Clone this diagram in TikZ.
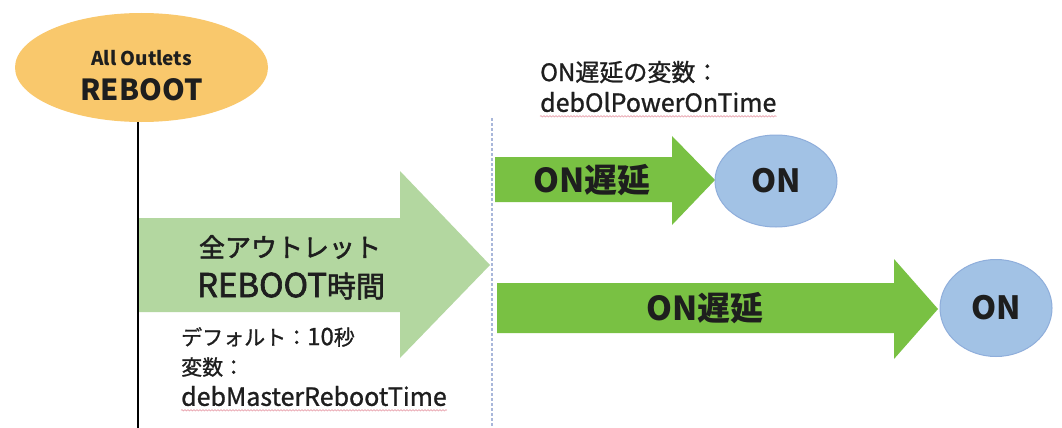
\documentclass[tikz,border=0pt]{standalone}
\usepackage{fontspec}
\setmainfont{Noto Sans CJK JP}
\newfontfamily\medfont[FakeBold=2]{Noto Sans CJK JP}
\newfontfamily\notefont[FakeBold=1]{Noto Sans CJK JP}
\usetikzlibrary{decorations.pathmorphing,shapes.geometric}
\definecolor{orangefill}{HTML}{F9C86C}
\definecolor{palegreen}{HTML}{B3D7A0}
\definecolor{brightgreen}{HTML}{79C143}
\definecolor{bluefill}{HTML}{A2C2E5}
\definecolor{blueline}{HTML}{8FAEDB}
\definecolor{dashblue}{HTML}{A9B7DA}
\definecolor{spell}{HTML}{E9A3AE}
\definecolor{txt}{HTML}{1E1E1E}
\newcommand\fsz[2]{{\fontsize{#1}{#1}\selectfont #2}}
\tikzset{
  lbl/.style={inner sep=0pt, text=txt},
  onell/.style={ellipse, fill=bluefill, draw=blueline, line width=1pt, inner sep=0pt, font=\bfseries\fontsize{32}{32}\selectfont, text=txt},
  spellline/.style={spell, line width=0.7pt, decorate, decoration={snake, amplitude=0.7pt, segment length=3pt}},
}
\begin{document}
\begin{tikzpicture}[x=1pt,y=-1pt]
\path[use as bounding box, fill=white] (0,0) rectangle (1062,428);
% orange ellipse
\node[ellipse, fill=orangefill, minimum width=253pt, minimum height=109pt, inner sep=0pt] (reboot) at (141.5,67.5) {};
\node[lbl, font=\bfseries\fontsize{19}{19}\selectfont] (allout) at (141.5,58) {All Outlets};
\node[lbl, font=\bfseries\fontsize{29}{29}\selectfont] (rebtxt) at (141.5,90) {REBOOT};
% black timeline
\coordinate (lineend) at (138,428);
\draw[line width=2.5pt, black] (reboot.south) ++(-3.5,0) coordinate (ls) -- (lineend);
% dashed separator
\coordinate (dtop) at (492,118);
\coordinate (dbot) at (492,428);
\draw[dashblue, line width=1.5pt, dash pattern=on 3pt off 2pt] (dtop) -- (dbot);
% big pale arrow
\fill[palegreen] (139,218) -- (400,218) -- (400,171) -- (490,265) -- (400,358) -- (400,312) -- (139,312) -- cycle;
\node[lbl, font=\medfont\fontsize{26}{26}\selectfont] (all) at (290,247) {全アウトレット};
\node[lbl, font=\medfont\fontsize{29}{29}\selectfont] (rtime) at (291,286) {\fsz{33}{REBOOT}時間};
% notes under big arrow
\node[lbl, anchor=west, font=\notefont\fontsize{21}{21}\selectfont] (dflt) at (181,337) {デフォルト：\fsz{24}{10}秒};
\node[lbl, anchor=west, font=\notefont\fontsize{21}{21}\selectfont] (var) at (181,367) {変数：};
\node[lbl, anchor=west, font=\notefont\fontsize{25}{25}\selectfont] (mvar) at (181,396) {debMasterRebootTime};
\draw[spellline] (mvar.south west) ++(0,4) coordinate (ms1) -- (mvar.south east |- ms1);
% top note
\node[lbl, anchor=west, font=\notefont\fontsize{24}{24}\selectfont] (onvar) at (540,72) {ON遅延の変数：};
\node[lbl, anchor=west, font=\notefont\fontsize{25}{25}\selectfont] (ovar) at (540,102) {debOlPowerOnTime};
\draw[spellline] (ovar.south west) ++(0,4) coordinate (os1) -- (ovar.south east |- os1);
% upper green arrow
\fill[brightgreen] (495,157) -- (672,157) -- (672,136) -- (715,180) -- (672,225) -- (672,202) -- (495,202) -- cycle;
\node[lbl, font=\bfseries\fontsize{33}{33}\selectfont] (ond1) at (592,180) {ON遅延};
\node[onell, minimum width=122pt, minimum height=92pt] (on1) at (776,181) {ON};
% lower green arrow
\fill[brightgreen] (497,283) -- (894,283) -- (894,259) -- (938,309) -- (894,359) -- (894,333) -- (497,333) -- cycle;
\node[lbl, font=\bfseries\fontsize{33}{33}\selectfont] (ond2) at (705,308) {ON遅延};
\node[onell, minimum width=112pt, minimum height=97pt] (on2) at (996,308) {ON};
\end{tikzpicture}
\end{document}
